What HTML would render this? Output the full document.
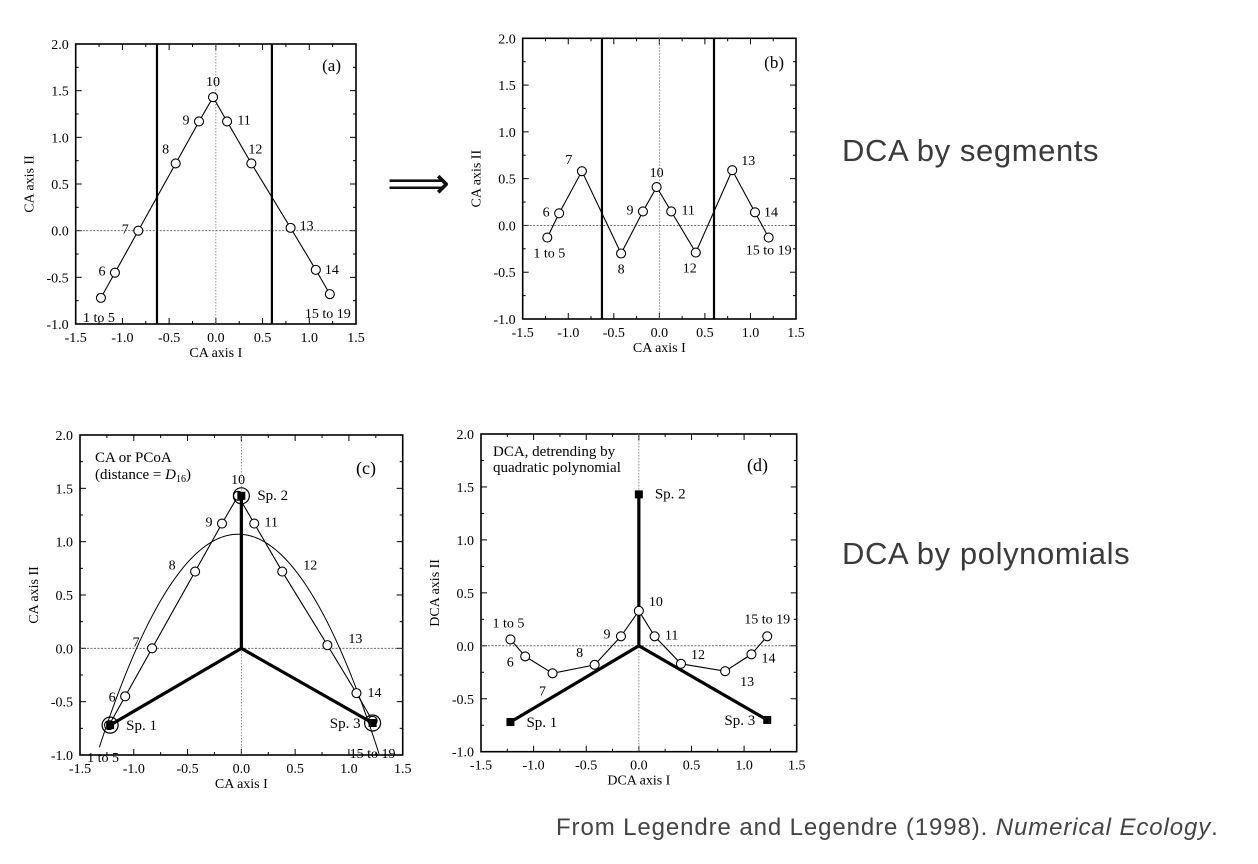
<!DOCTYPE html>
<html><head><meta charset="utf-8"><style>
body{margin:0;background:#fff;width:1258px;height:864px;overflow:hidden;position:relative;font-family:"Liberation Sans",sans-serif}
.t{position:absolute;color:#3a3a3a;font-size:31px;white-space:nowrap;letter-spacing:0.6px}
</style></head><body>
<svg id="s" width="1258" height="864" style="position:absolute;left:0;top:0"></svg>
<div class="t" style="left:842px;top:133px">DCA by segments</div>
<div class="t" style="left:842px;top:536px">DCA by polynomials</div>
<div class="t" style="left:556px;top:814px;font-size:24px;color:#444;letter-spacing:0.9px">From Legendre and Legendre (1998). <i>Numerical Ecology</i>.</div>
<div style="position:absolute;left:387px;top:158px;font-size:44px;font-family:'DejaVu Sans',sans-serif;color:#111">⟹</div>
<script>
const labels=["1 to 5","6","7","8","9","10","11","12","13","14","15 to 19"];
const axA_x=[-1.23,-1.08,-0.83,-0.43,-0.18,-0.03,0.12,0.38,0.8,1.07,1.22];
const axA_y=[-0.72,-0.45,0.0,0.72,1.17,1.43,1.17,0.72,0.03,-0.42,-0.68];
const axB_x=[-1.23,-1.1,-0.85,-0.42,-0.18,-0.03,0.13,0.4,0.8,1.05,1.2];
const axB_y=[-0.13,0.13,0.58,-0.3,0.15,0.41,0.15,-0.29,0.59,0.14,-0.13];
const axD_x=[-1.22,-1.08,-0.82,-0.42,-0.17,0.0,0.15,0.4,0.82,1.07,1.22];
const axD_y=[0.06,-0.1,-0.26,-0.18,0.09,0.33,0.09,-0.17,-0.24,-0.08,0.09];
const segBreaks=[-0.63,0.6];
const spX=[-1.22,0,1.22];
const spY=[-0.72,1.43,-0.7];
const spNames=["Sp. 1","Sp. 2","Sp. 3"];
const ticks=[-1.5,-1.0,-0.5,0.0,0.5,1.0,1.5];
const yticks=[-1.0,-0.5,0.0,0.5,1.0,1.5,2.0];
const parabolaTop=1.07, parabolaK=1.2;

const svg=document.getElementById('s');const NS='http://www.w3.org/2000/svg';
function el(tag,at,txt){const e=document.createElementNS(NS,tag);for(const k in at)e.setAttribute(k,at[k]);if(txt!==undefined)e.textContent=txt;svg.appendChild(e);return e;}
const F='"Liberation Serif",serif';
function panel(id,L,R,T,B,xt,yt){
  const sx=v=>L+(v+1.5)/3*(R-L), sy=v=>B-(v+1)/3*(B-T);
  const f=el('rect',{x:L,y:T,width:R-L,height:B-T,fill:'none',stroke:'#000','stroke-width':1.6});
  
  for(let v=-1.5;v<=1.501;v+=0.25){const x=sx(v),m=Math.abs(v*2-Math.round(v*2))<1e-6?6:3;
    el('line',{x1:x,y1:B,x2:x,y2:B-m,stroke:'#000'});el('line',{x1:x,y1:T,x2:x,y2:T+m,stroke:'#000'});}
  for(let v=-1;v<=2.001;v+=0.25){const y=sy(v),m=Math.abs(v*2-Math.round(v*2))<1e-6?6:3;
    el('line',{x1:L,y1:y,x2:L+m,y2:y,stroke:'#000'});el('line',{x1:R,y1:y,x2:R-m,y2:y,stroke:'#000'});}
  ticks.forEach(v=>{const t=el('text',{x:sx(v),y:B+18,'font-family':F,'font-size':14,'text-anchor':'middle'},v.toFixed(1));
    });
  yticks.forEach(v=>{const t=el('text',{x:L-7,y:sy(v)+5,'font-family':F,'font-size':14,'text-anchor':'end'},v.toFixed(1));
    });
  const xl=el('text',{x:(L+R)/2,y:B+33,'font-family':F,'font-size':14,'text-anchor':'middle'},xt);
  
  const yx=L-42,yy=(T+B)/2;
  const yl=el('text',{x:yx,y:yy,'font-family':F,'font-size':14,'text-anchor':'middle',transform:`rotate(-90 ${yx} ${yy})`},yt);
  
  el('line',{x1:L,y1:sy(0),x2:R,y2:sy(0),stroke:'#555','stroke-width':0.8,'stroke-dasharray':'2,1.5'});
  el('line',{x1:sx(0),y1:T,x2:sx(0),y2:B,stroke:'#777','stroke-width':0.8,'stroke-dasharray':'1.5,1.5'});
  return {sx,sy,L,R,T,B};
}
function series(p,xs,ys,offs){
  const pts=xs.map((x,i)=>p.sx(x)+','+p.sy(ys[i])).join(' ');
  const pl=el('polyline',{points:pts,fill:'none',stroke:'#000','stroke-width':1.1});
  
  xs.forEach((x,i)=>{const c=el('circle',{cx:p.sx(x),cy:p.sy(ys[i]),r:4.5,fill:'#fff',stroke:'#000','stroke-width':1.1});
    
    const o=offs[i];const t=el('text',{x:p.sx(x)+o[0],y:p.sy(ys[i])+o[1],'font-family':F,'font-size':14,'text-anchor':o[2]||'middle'},labels[i]);
    });
}
function breaks(p){segBreaks.forEach(v=>{const l=el('line',{x1:p.sx(v),y1:p.T,x2:p.sx(v),y2:p.B,stroke:'#000','stroke-width':2.2});
  });}
function species(p){
  spX.forEach((x,i)=>{const l=el('line',{x1:p.sx(0),y1:p.sy(0),x2:p.sx(x),y2:p.sy(spY[i]),stroke:'#000','stroke-width':3.2});
    });
  spX.forEach((x,i)=>{const X=p.sx(x),Y=p.sy(spY[i]);
    const r=el('rect',{x:X-4,y:Y-4,width:8,height:8,fill:'#000'});
    const t=el('text',{x:i==2?X-12:X+16,y:Y+(i==1?4:5),'font-family':F,'font-size':15,'text-anchor':i==2?'end':'start'},spNames[i]);
    });
}
// (a)
const pa=panel('panel-a',75.7,356,44,324,'CA axis I','CA axis II');breaks(pa);
series(pa,axA_x,axA_y,[[-2,24],[-13,3],[-13,3],[-10,-10],[-13,3],[0,-11],[17,3],[4,-10],[16,2],[16,4],[-2,24]]);
el('text',{x:341,y:71,'font-family':F,'font-size':17,'text-anchor':'end'},'(a)');
// (b)
const pb=panel('panel-b',522.7,796,38.3,319,'CA axis I','CA axis II');breaks(pb);
series(pb,axB_x,axB_y,[[2,20],[-13,3],[-13,-7],[0,20],[-13,3],[0,-10],[17,3],[-6,20],[16,-5],[16,4],[0,17]]);
el('text',{x:784,y:68,'font-family':F,'font-size':17,'text-anchor':'end'},'(b)');
// (c)
const pc=panel('panel-c',80,402.7,435,755,'CA axis I','CA axis II');
const cp=[];for(let x=-1.32;x<=1.321;x+=0.02){const y=parabolaTop-parabolaK*(x+0.03)*(x+0.03);if(y>=-1)cp.push(pc.sx(x)+','+pc.sy(y));}
const par=el('polyline',{points:cp.join(' '),fill:'none',stroke:'#000','stroke-width':1});
series(pc,axA_x,axA_y,[[-6,37],[-13,5],[-16,-2],[-23,-2],[-13,3],[0,-12],[17,3],[28,-2],[28,-2],[18,4],[0,37]]);
species(pc);
spX.forEach((x,i)=>el('circle',{cx:pc.sx(x),cy:pc.sy(spY[i]),r:8,fill:'none',stroke:'#000','stroke-width':1.2}));
el('text',{x:95,y:462,'font-family':F,'font-size':15},'CA or PCoA');
const dt=el('text',{x:95,y:479,'font-family':F,'font-size':15});dt.innerHTML='(distance = <tspan font-style="italic">D</tspan><tspan font-size="10" dy="3">16</tspan><tspan dy="-3">)</tspan>';
el('text',{x:376,y:474,'font-family':F,'font-size':18,'text-anchor':'end'},'(c)');
// (d)
const pd=panel('panel-d',481,796.7,434,751.7,'DCA axis I','DCA axis II');
species(pd);
series(pd,axD_x,axD_y,[[-2,-12],[-15,10],[-10,22],[-15,-8],[-14,2],[17,-5],[17,3],[17,-5],[22,15],[17,8],[0,-13]]);
el('text',{x:493,y:456,'font-family':F,'font-size':15},'DCA, detrending by');
el('text',{x:493,y:472,'font-family':F,'font-size':15},'quadratic polynomial');
el('text',{x:768,y:471,'font-family':F,'font-size':18,'text-anchor':'end'},'(d)');
</script></body></html>
